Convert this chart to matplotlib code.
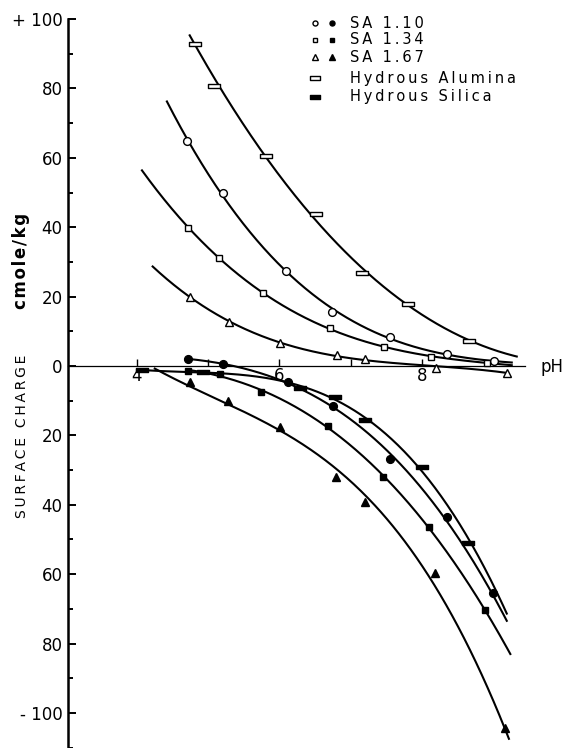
import numpy as np
import matplotlib
matplotlib.use("Agg")
from matplotlib import pyplot as plt
from matplotlib.path import Path

# --- values (pH, surface charge cmole/kg) ---
# positive charge, open symbols
alumina_ph = [4.81, 5.08, 5.81, 6.51, 7.16, 7.80, 8.66]
alumina_q = [92.8, 80.7, 60.5, 43.8, 26.8, 17.9, 7.2]
alumina_ends = [(4.74, 96.8), (9.33, 2.9)]

sa110_pos_ph = [4.70, 5.21, 6.09, 6.74, 7.55, 8.35, 9.01]
sa110_pos_q = [64.8, 49.9, 27.4, 15.6, 8.4, 3.5, 1.4]
sa110_pos_ends = [(4.42, 76.4), (9.26, 0.9)]

sa134_pos_ph = [4.72, 5.15, 5.77, 6.71, 7.47, 8.13, 8.91]
sa134_pos_q = [39.8, 31.1, 21.0, 11.0, 5.5, 2.6, 0.9]
sa134_pos_ends = [(4.07, 56.5), (9.26, 0.3)]

sa167_pos_ph = [4.74, 5.29, 6.01, 6.81, 7.20, 8.20, 9.19]
sa167_pos_q = [19.9, 12.7, 6.6, 3.2, 2.0, -0.6, -2.0]
sa167_pos_ends = [(4.22, 28.8), (9.20, -1.8)]

# negative charge, filled symbols
silica_ph = [4.07, 4.93, 6.29, 6.78, 7.20, 8.00, 8.65]
silica_q = [-1.2, -1.7, -6.3, -8.9, -15.6, -29.1, -51.0]
silica_ends = [(4.00, -1.0), (9.19, -70.9)]

sa110_neg_ph = [4.72, 5.21, 6.12, 6.75, 7.55, 8.35, 8.99]
sa110_neg_q = [2.0, 0.6, -4.6, -11.5, -26.8, -43.5, -65.4]
sa110_neg_ends = [(4.72, 2.0), (9.19, -74.1)]

sa134_neg_ph = [4.72, 5.16, 5.74, 6.68, 7.45, 8.10, 8.88]
sa134_neg_q = [-1.4, -2.3, -7.5, -17.3, -32.0, -46.4, -70.3]
sa134_neg_ends = [(4.70, -1.0), (9.24, -83.0)]

sa167_neg_ph = [4.74, 5.28, 6.01, 6.79, 7.20, 8.18, 9.16]
sa167_neg_q = [-4.6, -10.1, -17.6, -32.0, -39.2, -59.7, -104.3]
sa167_neg_ends = [(4.25, -2.0), (9.22, -108.6)]

y_ticks = [-100, -80, -60, -40, -20, 0, 20, 40, 60, 80, 100]
y_labels = ["- 100", "80", "60", "40", "20", "0", "20", "40", "60", "80", "+ 100"]
x_ticks = [4, 6, 8]
x_minor = [5, 7]

legend_rows = ["SA 1.10", "SA 1.34", "SA 1.67", "Hydrous Alumina", "Hydrous Silica"]

FONT = "DejaVu Sans"
plt.rcParams["font.family"] = [FONT]

rect = Path([(-1, -0.36), (1, -0.36), (1, 0.36), (-1, 0.36), (-1, -0.36)],
            [Path.MOVETO, Path.LINETO, Path.LINETO, Path.LINETO, Path.CLOSEPOLY])


def spaced(s, gap="\u2009"):
    return gap.join(s)


def smooth(ph, q, ends):
    xs = [ends[0][0]] + list(ph) + [ends[1][0]]
    ys = [ends[0][1]] + list(q) + [ends[1][1]]
    c = np.polyfit(xs, ys, 3)
    xx = np.linspace(ends[0][0], ends[1][0], 300)
    return xx, np.polyval(c, xx)


W, H = 562, 748
fig = plt.figure(figsize=(W / 100, H / 100), dpi=100)
ax = fig.add_axes([68 / W, 0, 1 - 68 / W, 1])
ax.set_xlim(3.032, 9.965)
ax.set_ylim(-110.1, 105.5)

series = [
    (alumina_ph, alumina_q, alumina_ends, rect, "white", 8.6),
    (sa110_pos_ph, sa110_pos_q, sa110_pos_ends, "o", "white", 5.6),
    (sa134_pos_ph, sa134_pos_q, sa134_pos_ends, "s", "white", 5.0),
    (sa167_pos_ph, sa167_pos_q, sa167_pos_ends, "^", "white", 5.6),
    (silica_ph, silica_q, silica_ends, rect, "black", 8.6),
    (sa110_neg_ph, sa110_neg_q, sa110_neg_ends, "o", "black", 5.6),
    (sa134_neg_ph, sa134_neg_q, sa134_neg_ends, "s", "black", 5.0),
    (sa167_neg_ph, sa167_neg_q, sa167_neg_ends, "^", "black", 5.6),
]
for ph, q, ends, mk, fc, ms in series:
    xx, yy = smooth(ph, q, ends)
    ax.plot(xx, yy, color="black", lw=1.5, zorder=2)
    ax.plot(ph, q, ls="none", marker=mk, ms=ms, mfc=fc, mec="black", mew=1.0, zorder=3)

# axes styling
for s in ["top", "right"]:
    ax.spines[s].set_visible(False)
ax.spines["left"].set_linewidth(1.8)
ax.spines["left"].set_bounds(-110.1, 100)
ax.spines["bottom"].set_position(("data", 0))
ax.spines["bottom"].set_linewidth(0.9)
ax.spines["bottom"].set_bounds(3.032, 9.45)
ax.spines["bottom"].set_zorder(1)

ax.set_yticks(y_ticks)
ax.set_yticklabels(y_labels)
ax.set_yticks(np.arange(-110, 101, 10), minor=True)
ax.tick_params(axis="y", which="major", direction="in", length=6, width=1.4, pad=4, labelsize=12)
ax.tick_params(axis="y", which="minor", direction="in", length=3.5, width=1.4)

ax.set_xticks(x_ticks)
ax.set_xticklabels([str(t) for t in x_ticks])
ax.set_xticks(x_minor, minor=True)
ax.tick_params(axis="x", which="both", direction="in", length=5, width=1.0, pad=1, labelsize=12)

ax.text(9.66, -1.7, "pH", ha="left", va="baseline", fontsize=12)

# y label, wide tracking like the original lettering
fig.text(22 / W, 1 - 436 / H, spaced("SURFACE CHARGE", "\u2009"), rotation=90,
         ha="center", va="center", fontsize=10)
fig.text(21 / W, 1 - 261 / H, spaced("cmole/kg", "\u200a"), rotation=90,
         ha="center", va="center", fontsize=12, fontweight="bold")

# legend (drawn by hand to copy the two-symbol columns)
rows_y = [23, 40, 57, 78, 97]
pairs = [("o", 3.6), ("s", 3.4), ("^", 3.8)]
for (mk, ms), yy in zip(pairs, rows_y[:3]):
    ax.plot([315 / W], [1 - yy / H], transform=fig.transFigure, clip_on=False,
            marker=mk, ms=ms, mfc="white", mec="black", mew=1.0)
    ax.plot([332 / W], [1 - yy / H], transform=fig.transFigure, clip_on=False,
            marker=mk, ms=ms, mfc="black", mec="black", mew=1.0)
for fc, yy in zip(["white", "black"], rows_y[3:]):
    ax.plot([315 / W], [1 - yy / H], transform=fig.transFigure, clip_on=False,
            marker=rect, ms=7, mfc=fc, mec="black", mew=1.0)
for label, yy in zip(legend_rows, rows_y):
    fig.text(350 / W, 1 - yy / H, spaced(label), ha="left", va="center", fontsize=10.5)

fig.savefig("out.png", dpi=100)
